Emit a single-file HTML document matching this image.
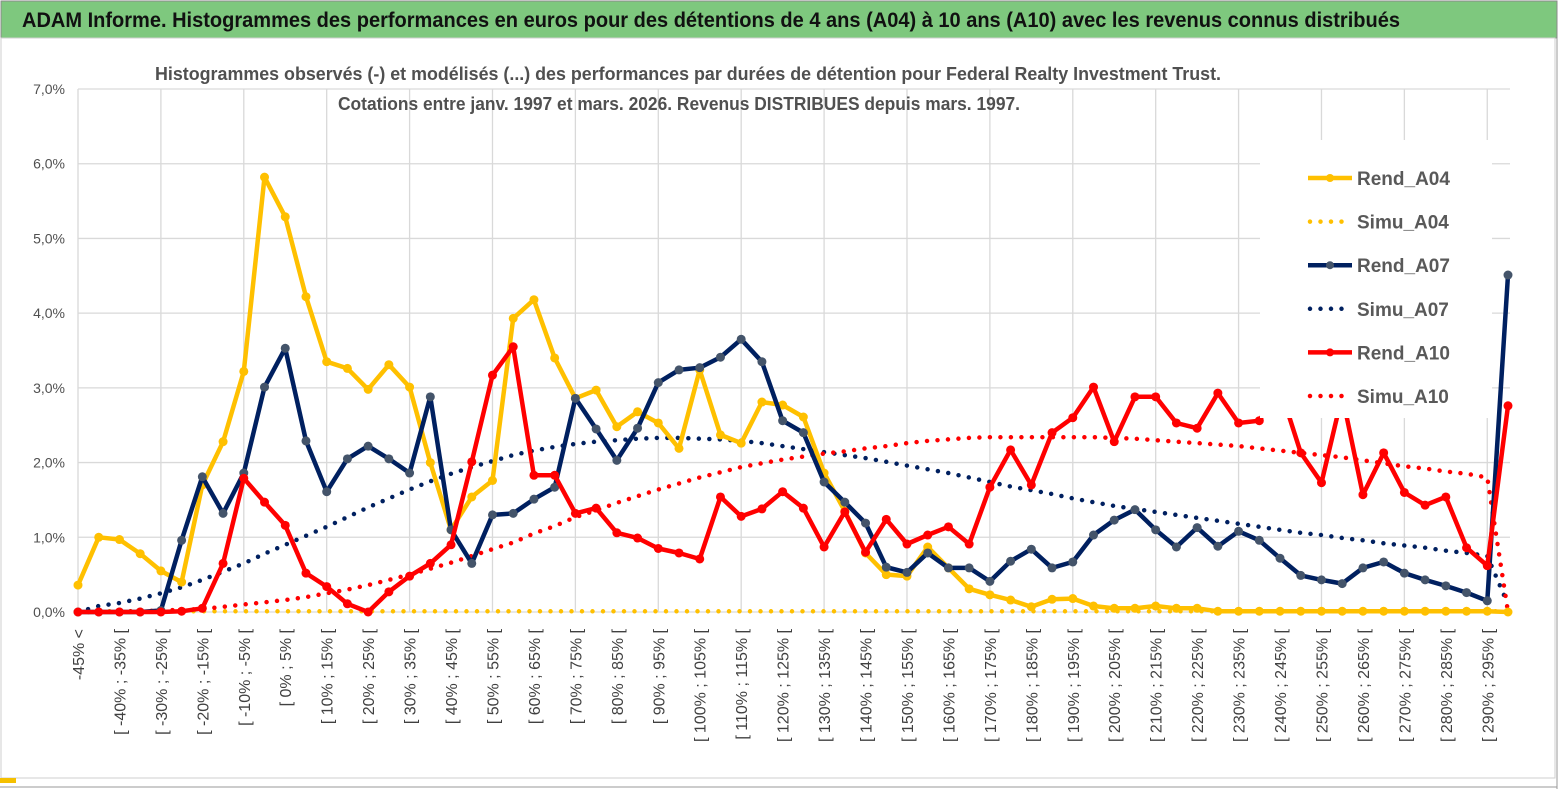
<!DOCTYPE html>
<html><head><meta charset="utf-8">
<style>
html,body{margin:0;padding:0;background:#fff;}
svg{display:block;font-family:"Liberation Sans",sans-serif;}
</style></head>
<body>
<svg id="chart" width="1567" height="789" viewBox="0 0 1567 789">
  <rect x="0" y="0" width="1567" height="789" fill="#fff"/>
  <rect x="1" y="1" width="1556" height="37" fill="#7ec87e" stroke="#8a8a8a" stroke-width="1"/>
  <text x="22" y="27" font-size="21" font-weight="bold" fill="#111" textLength="1378" lengthAdjust="spacingAndGlyphs">ADAM Informe. Histogrammes des performances en euros pour des détentions de 4 ans (A04) à 10 ans (A10) avec les revenus connus distribués</text>
  <rect x="1" y="38" width="1554" height="740" fill="none" stroke="#cfcfcf" stroke-width="1"/>
  <line x1="1557" y1="38" x2="1557" y2="789" stroke="#9a9a9a" stroke-width="1"/>
  <line x1="0" y1="787" x2="1557" y2="787" stroke="#9a9a9a" stroke-width="1"/>
  <rect x="0" y="778" width="16" height="5" fill="#f5c000"/>
  <g id="grid"></g>
  <g id="yaxis"></g>
  <g id="xaxis"></g>
  <g id="series"></g>
  <text x="688" y="80" text-anchor="middle" font-size="18" font-weight="bold" fill="#505050" textLength="1066" lengthAdjust="spacingAndGlyphs">Histogrammes observés (-) et modélisés (...) des performances par durées de détention pour Federal Realty Investment Trust.</text>
  <text x="679" y="110" text-anchor="middle" font-size="18" font-weight="bold" fill="#505050" textLength="682" lengthAdjust="spacingAndGlyphs">Cotations entre janv. 1997 et mars. 2026. Revenus DISTRIBUES depuis mars. 1997.</text>
  <g id="legend"></g>
</svg>
<script>
const categories = (function(){const c=["-45% <"];for(let a=-45;a<300;a+=5){c.push("[ "+a+"% ; "+(a+5)+"% [");}return c;})();
const yTicks = [0,1,2,3,4,5,6,7];
const yTickLabels = ["0,0%","1,0%","2,0%","3,0%","4,0%","5,0%","6,0%","7,0%"];
const rendA04 = [0.36,1.0,0.97,0.78,0.55,0.40,1.7,2.28,3.22,5.82,5.29,4.22,3.35,3.26,2.98,3.31,3.01,2.0,1.1,1.54,1.76,3.93,4.18,3.40,2.86,2.97,2.48,2.68,2.53,2.19,3.24,2.37,2.26,2.81,2.77,2.61,1.86,1.35,0.79,0.50,0.48,0.87,0.59,0.31,0.23,0.16,0.07,0.17,0.18,0.08,0.05,0.05,0.08,0.05,0.05,0.01,0.01,0.01,0.01,0.01,0.01,0.01,0.01,0.01,0.01,0.01,0.01,0.01,0.01,0.0];
const simuA04 = [0.01,0.01,0.01,0.01,0.01,0.01,0.01,0.01,0.01,0.01,0.01,0.01,0.01,0.01,0.01,0.01,0.01,0.01,0.01,0.01,0.01,0.01,0.01,0.01,0.01,0.01,0.01,0.01,0.01,0.01,0.01,0.01,0.01,0.01,0.01,0.01,0.01,0.01,0.01,0.01,0.01,0.01,0.01,0.01,0.01,0.01,0.01,0.01,0.01,0.01,0.01,0.01,0.01,0.01,0.01,0.01,0.01,0.01,0.01,0.01,0.01,0.01,0.01,0.01,0.01,0.01,0.01,0.01,0.01,0.01];
const rendA07 = [0,0,0,0,0.02,0.96,1.81,1.32,1.86,3.01,3.53,2.29,1.61,2.05,2.22,2.05,1.86,2.88,1.10,0.65,1.30,1.32,1.51,1.67,2.86,2.45,2.03,2.46,3.07,3.24,3.27,3.41,3.65,3.35,2.56,2.40,1.74,1.47,1.19,0.60,0.53,0.79,0.59,0.59,0.41,0.68,0.84,0.59,0.67,1.03,1.23,1.37,1.10,0.87,1.13,0.88,1.08,0.96,0.72,0.49,0.43,0.38,0.59,0.67,0.52,0.43,0.35,0.26,0.15,4.51];
const simuA07 = [0.0,0.08,0.12,0.18,0.25,0.33,0.43,0.54,0.65,0.78,0.90,1.02,1.14,1.27,1.40,1.52,1.64,1.75,1.85,1.94,2.02,2.10,2.16,2.21,2.25,2.28,2.30,2.32,2.33,2.33,2.32,2.31,2.29,2.26,2.22,2.18,2.14,2.10,2.06,2.01,1.96,1.91,1.86,1.80,1.74,1.68,1.63,1.58,1.52,1.47,1.42,1.38,1.34,1.30,1.26,1.22,1.18,1.14,1.10,1.06,1.03,0.99,0.96,0.92,0.89,0.86,0.82,0.79,0.75,0.1];
const rendA10 = [0,0,0,0,0,0.01,0.05,0.65,1.79,1.47,1.16,0.52,0.34,0.11,0.0,0.27,0.48,0.65,0.90,2.01,3.17,3.55,1.83,1.83,1.32,1.39,1.06,0.99,0.85,0.79,0.71,1.54,1.28,1.38,1.61,1.39,0.87,1.34,0.80,1.24,0.91,1.03,1.14,0.91,1.67,2.17,1.70,2.40,2.60,3.01,2.28,2.88,2.88,2.53,2.46,2.93,2.53,2.56,3.0,2.13,1.73,2.9,1.57,2.13,1.60,1.43,1.54,0.86,0.62,2.76];
const simuA10 = [0.0,0.0,0.01,0.01,0.02,0.03,0.04,0.07,0.10,0.13,0.16,0.20,0.25,0.30,0.36,0.43,0.50,0.58,0.66,0.75,0.84,0.93,1.05,1.15,1.27,1.36,1.46,1.55,1.64,1.72,1.80,1.87,1.94,1.99,2.04,2.08,2.12,2.15,2.19,2.22,2.26,2.29,2.31,2.33,2.34,2.34,2.34,2.34,2.34,2.34,2.33,2.32,2.30,2.28,2.26,2.24,2.22,2.19,2.16,2.13,2.10,2.07,2.03,1.99,1.95,1.92,1.88,1.85,1.80,0.0];

const NS="http://www.w3.org/2000/svg";
const X0=78, STEP=(1508-78)/69, Y0=612, YPER=(612-89)/7;
function xs(i){return X0+i*STEP;}
function ys(v){return Y0-v*YPER;}
function mk(tag,attrs,parent){const e=document.createElementNS(NS,tag);for(const k in attrs)e.setAttribute(k,attrs[k]);parent.appendChild(e);return e;}

const grid=document.getElementById('grid');
yTicks.forEach(function(t){
  const l=mk('line',{x1:X0,x2:1510,y1:ys(t),y2:ys(t),stroke:'#d9d9d9','stroke-width':1.3},grid);
  
  
});
for(let i=0;i<categories.length;i+=4){
  const l=mk('line',{x1:xs(i),x2:xs(i),y1:ys(7),y2:Y0,stroke:'#d9d9d9','stroke-width':1.3},grid);
  
  
}
const yaxis=document.getElementById('yaxis');
yTicks.forEach(function(t,k){
  const tx=mk('text',{x:65,y:ys(t)+5,'text-anchor':'end','font-size':14,fill:'#505050'},yaxis);
  tx.textContent=yTickLabels[k];
  
  
});
const xaxis=document.getElementById('xaxis');
categories.forEach(function(c,i){
  if(i%2!==0)return;
  const x=xs(i)+6;
  const tx=mk('text',{x:x,y:629,'text-anchor':'end','font-size':16,fill:'#404040',transform:'rotate(-90 '+x+' 629)'},xaxis);
  tx.textContent=c;
  
  
});

const series=document.getElementById('series');
function pts(arr){return arr.map(function(v,i){return xs(i).toFixed(1)+','+ys(v).toFixed(1);}).join(' ');}
function dotted(arr,color,name){
  const p=mk('polyline',{points:pts(arr),fill:'none',stroke:color,'stroke-width':4.5,'stroke-linecap':'round','stroke-dasharray':'0 10.5'},series);
  
  
}
function solid(arr,color,mcolor,name){
  const p=mk('polyline',{points:pts(arr),fill:'none',stroke:color,'stroke-width':4.5,'stroke-linejoin':'round'},series);
  
  
  arr.forEach(function(v,i){
    const c=mk('circle',{cx:xs(i),cy:ys(v),r:4.5,fill:mcolor},series);
    
    
  });
}
dotted(simuA04,'#ffc000','simu-a04-line');
dotted(simuA07,'#002060','simu-a07-line');
dotted(simuA10,'#ff0000','simu-a10-line');
solid(rendA04,'#ffc000','#ffc000','rend-a04-line');
solid(rendA07,'#002060','#44546a','rend-a07-line');
solid(rendA10,'#ff0000','#ff0000','rend-a10-line');

const legend=document.getElementById('legend');
const lb=mk('rect',{x:1260,y:140,width:232,height:278,fill:'#fff'},legend);


const legItems=[['Rend_A04','#ffc000','#ffc000',false],['Simu_A04','#ffc000','#ffc000',true],['Rend_A07','#002060','#44546a',false],['Simu_A07','#002060','#002060',true],['Rend_A10','#ff0000','#ff0000',false],['Simu_A10','#ff0000','#ff0000',true]];
legItems.forEach(function(it,k){
  const y=178+k*43.6;
  const g=mk('g',{},legend);
  
  
  if(it[3]){
    mk('line',{x1:1310,x2:1350,y1:y,y2:y,stroke:it[1],'stroke-width':4.5,'stroke-linecap':'round','stroke-dasharray':'0 10.5'},g);
  }else{
    mk('line',{x1:1308,x2:1352,y1:y,y2:y,stroke:it[1],'stroke-width':4.5},g);
    mk('circle',{cx:1330,cy:y,r:4,fill:it[2]},g);
  }
  const t=mk('text',{x:1357,y:y+7,'font-size':19,'font-weight':'bold',fill:'#595959'},g);
  t.textContent=it[0];
});
</script>
</body></html>
